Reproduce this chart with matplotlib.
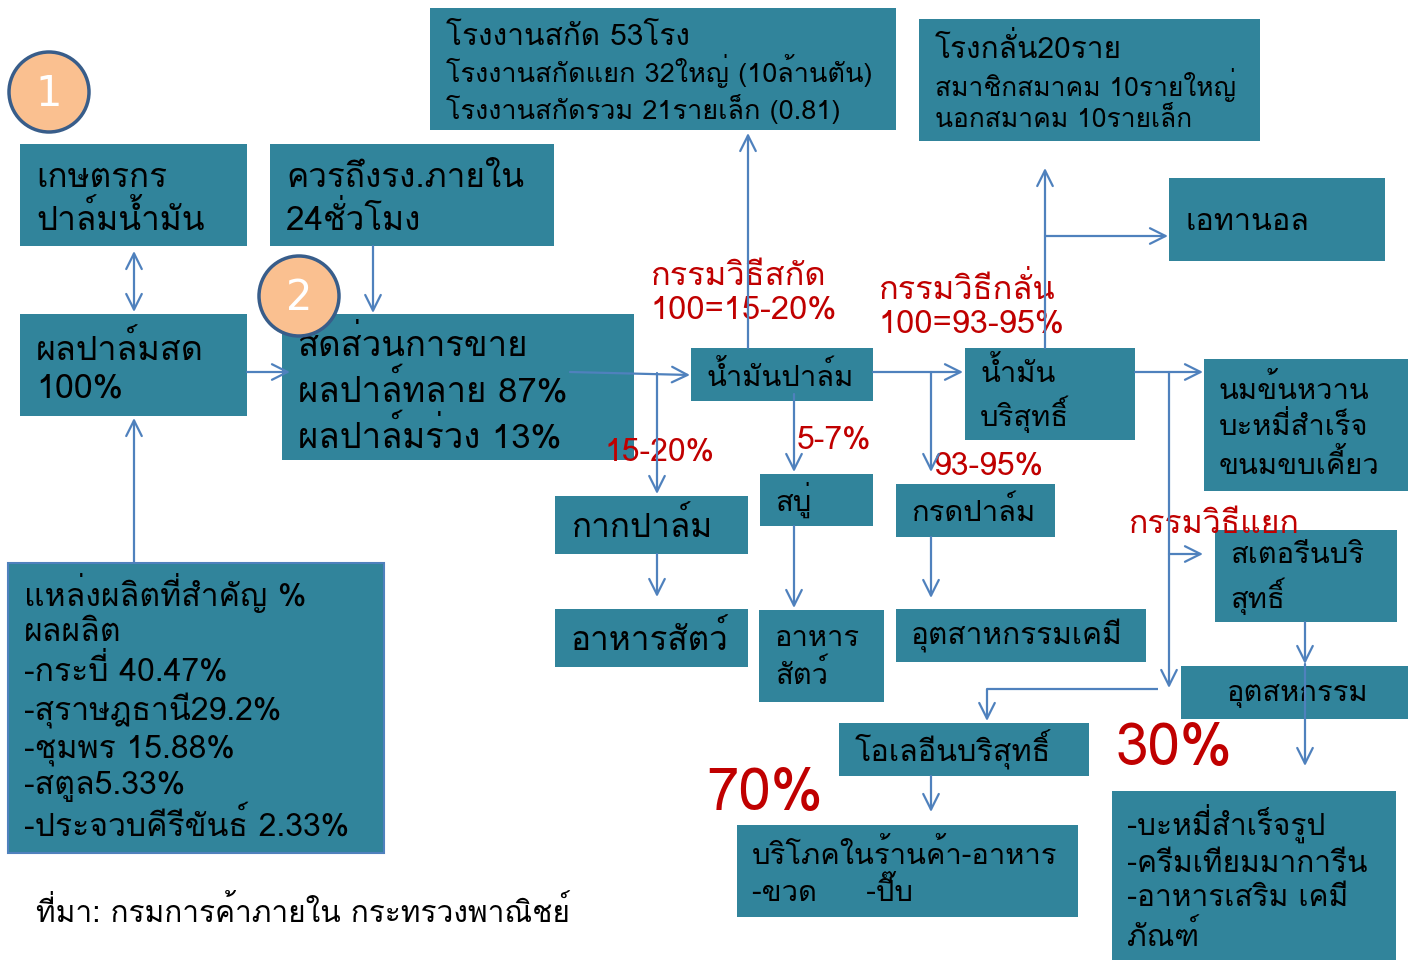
import matplotlib
matplotlib.use('Agg')
import matplotlib.pyplot as plt
from matplotlib.patches import Rectangle, Circle

plt.rcParams['font.family'] = ['Loma', 'DejaVu Sans']

# box texts
farmer = 'เกษตรกร\nปาล์มน้ำมัน'
deliver = 'ควรถึงรง.ภายใน\n24ชั่วโมง'
fresh = 'ผลปาล์มสด\n100%'
sales = 'สัดส่วนการขาย\nผลปาล์ทลาย 87%\nผลปาล์มร่วง 13%'
mill_title = 'โรงงานสกัด 53โรง'
mill_lines = 'โรงงานสกัดแยก 32ใหญ่ (10ล้านตัน)\nโรงงานสกัดรวม 21รายเล็ก (0.81)'
refinery_title = 'โรงกลั่น20ราย'
refinery_lines = 'สมาชิกสมาคม 10รายใหญ่\nนอกสมาคม 10รายเล็ก'
ethanol = 'เอทานอล'
crude = 'น้ำมันปาล์ม'
refined = 'น้ำมัน\nบริสุทธิ์'
foods = 'นมข้นหวาน\nบะหมี่สำเร็จ\nขนมขบเคี้ยว'
kernel = 'กากปาล์ม'
soap = 'สบู่'
acid = 'กรดปาล์ม'
stearin = 'สเตอรีนบริ\nสุทธิ์'
feed1 = 'อาหารสัตว์'
feed2 = 'อาหาร\nสัตว์'
chem = 'อุตสาหกรรมเคมี'
industry = 'อุตสหกรรม'
olein = 'โอเลอีนบริสุทธิ์'
consume = 'บริโภคในร้านค้า-อาหาร\n-ขวด     -ปี๊บ'
products = '-บะหมี่สำเร็จรูป\n-ครีมเทียมมาการีน\n-อาหารเสริม เคมี\nภัณฑ์'
sources = ('แหล่งผลิตที่สำคัญ %\nผลผลิต\n-กระบี่ 40.47%\n-สุราษฎธานี29.2%\n'
           '-ชุมพร 15.88%\n-สตูล5.33%\n-ประจวบคีรีขันธ์ 2.33%')
source_note = 'ที่มา: กรมการค้าภายใน กระทรวงพาณิชย์'

# red labels
red_labels = ['กรรมวิธีสกัด\n100=15-20%', 'กรรมวิธีกลั่น\n100=93-95%', '15-20%', '5-7%',
              '93-95%', 'กรรมวิธีแยก', '30%', '70%']
step_numbers = ['1', '2']

teal = '#31849B'
blue = '#4F81BD'
red = '#C00000'

fig = plt.figure(figsize=(14.15, 9.61), dpi=100)
ax = fig.add_axes([0, 0, 1, 1])
ax.set_xlim(0, 1415)
ax.set_ylim(961, 0)
ax.axis('off')

# (text, x0, y0, x1, y1, text_x, text_y, fontsize, linespacing)
boxes = [
    (farmer, 20, 144, 247, 246, 36, 200, 24, 1.26),
    (deliver, 270, 144, 554, 246, 286, 200, 24, 1.26),
    (fresh, 20, 314, 247, 416, 36, 368, 24.5, 1.26),
    (sales, 282, 314, 634, 460, 298, 390, 25, 1.22),
    (mill_lines, 430, 8, 896, 130, 446, 89, 19.5, 1.2),
    (refinery_lines, 919, 19, 1260, 141, 935, 100, 19, 1.25),
    (ethanol, 1169, 178, 1385, 261, 1185, 222, 22, 1.2),
    (crude, 691, 348, 873, 401, 707, 376, 21, 1.2),
    (refined, 965, 348, 1135, 440, 980, 395, 21, 1.27),
    (foods, 1204, 359, 1408, 491, 1219, 427, 21, 1.3),
    (kernel, 555, 496, 748, 554, 571, 526, 24, 1.2),
    (soap, 760, 474, 873, 526, 775, 500, 21, 1.2),
    (acid, 896, 484, 1055, 537, 911, 512, 21, 1.2),
    (stearin, 1215, 530, 1397, 622, 1230, 578, 21, 1.27),
    (feed1, 555, 609, 748, 667, 571, 639, 24, 1.2),
    (feed2, 759, 610, 884, 702, 775, 657, 21, 1.27),
    (chem, 896, 609, 1146, 662, 911, 636, 21.5, 1.2),
    (industry, 1181, 666, 1408, 719, 1227, 694, 21, 1.2),
    (olein, 839, 723, 1089, 776, 855, 750, 22, 1.2),
    (consume, 737, 825, 1078, 917, 752, 873, 21, 1.27),
    (products, 1112, 791, 1396, 960, 1127, 878, 21.5, 1.3),
    (sources, 8, 563, 384, 853, 24, 708, 23, 1.22),
]

for txt, x0, y0, x1, y1, tx, ty, fs, ls in boxes:
    edge = blue if txt == sources else 'none'
    ax.add_patch(Rectangle((x0, y0), x1 - x0, y1 - y0, facecolor=teal,
                           edgecolor=edge, lw=1.5, zorder=1))
    ax.text(tx, ty, txt, fontsize=fs, va='center', ha='left',
            linespacing=ls, color='black', zorder=3)

ax.text(446, 37, mill_title, fontsize=21.5, va='center', ha='left', zorder=3)
ax.text(935, 48, refinery_title, fontsize=21.5, va='center', ha='left', zorder=3)
ax.text(36, 912, source_note, fontsize=21.5, va='center', ha='left', zorder=3)

# red annotations: (x, y, size)
red_pos = [(650, 294, 23.5), (878, 306, 23.5), (604, 453, 23), (797, 441, 23),
           (933, 467, 23), (1128, 525, 23), (1116, 750, 42), (706, 795, 42)]
for lab, (x, y, fs) in zip(red_labels, red_pos):
    ax.text(x, y, lab, color=red, fontsize=fs, va='center', ha='left',
            linespacing=1.15, zorder=4)


def arrow(x0, y0, x1, y1, style='->'):
    ax.annotate('', xy=(x1, y1), xytext=(x0, y0),
                arrowprops=dict(arrowstyle=style, color=blue, lw=1.6,
                                shrinkA=0, shrinkB=0, mutation_scale=28),
                zorder=5)


def line(xs, ys):
    ax.plot(xs, ys, color=blue, lw=1.6, zorder=5, solid_capstyle='butt')


arrow(134, 251, 134, 312, style='<->')
arrow(134, 563, 134, 418)
arrow(373, 246, 373, 313)
arrow(247, 372, 290, 372)
arrow(570, 372, 690, 375)
arrow(657, 373, 657, 494)
arrow(657, 554, 657, 597)
arrow(748, 348, 748, 133)
arrow(794, 394, 794, 472)
arrow(794, 526, 794, 608)
arrow(873, 372, 963, 372)
arrow(931, 372, 931, 472)
arrow(931, 537, 931, 598)
arrow(1045, 348, 1045, 168)
arrow(1045, 236, 1168, 236)
arrow(1135, 372, 1203, 372)
arrow(1169, 372, 1169, 688)
arrow(1169, 554, 1203, 554)
line([1158, 987], [689, 689])
arrow(987, 689, 987, 721)
arrow(1305, 622, 1305, 664)
arrow(1305, 664, 1305, 766)
arrow(931, 776, 931, 812)

# numbered circles
for num, (cx, cy) in zip(step_numbers, [(49, 92), (299, 296)]):
    ax.add_patch(Circle((cx, cy), 40, facecolor='#FAC090', edgecolor='#385D8A',
                        lw=2.5, zorder=6))
    ax.text(cx, cy + 2, num, color='white', fontsize=30, ha='center',
            va='center', zorder=7, family='DejaVu Sans')

fig.savefig('out.png', dpi=100)
